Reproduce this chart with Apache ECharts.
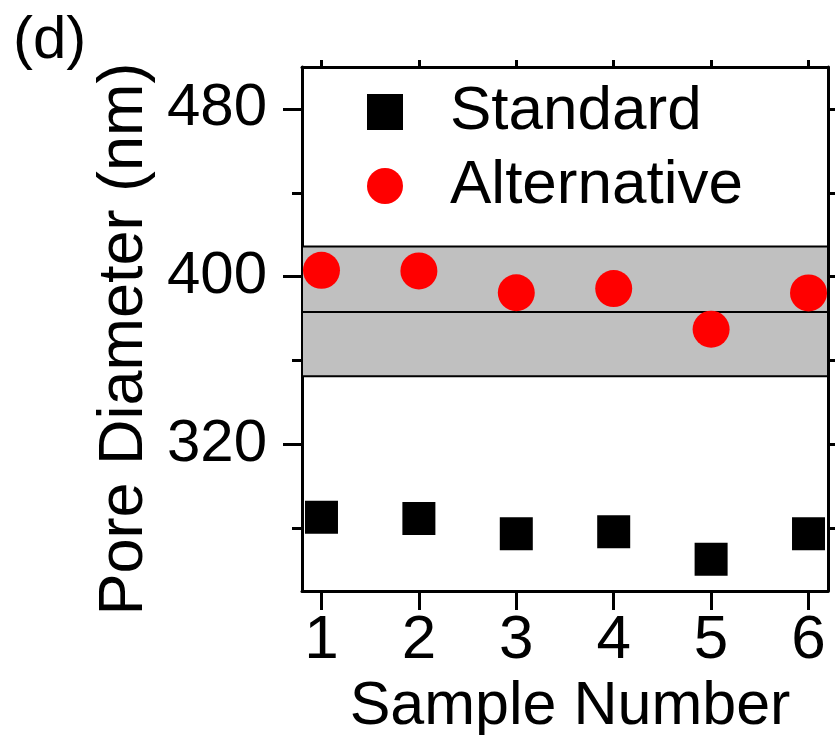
<!DOCTYPE html>
<html>
<head>
<meta charset="utf-8">
<script src="https://cdn.jsdelivr.net/npm/echarts@6/dist/echarts.min.js"></script>
<style>html,body{margin:0;padding:0;background:#fff}#c{width:835px;height:735px}</style>
</head>
<body>
<div id="c"></div>
<script>
const samples = [1, 2, 3, 4, 5, 6];
const standard = [285.2, 284.6, 277.3, 278.3, 265.1, 277.3];
const alternative = [403.0, 402.7, 392.3, 394.3, 374.9, 392.2];
const band = [352.4, 383.3, 414.4];
const yMajor = [320, 400, 480];
const yMinor = [280, 360, 440];
const yAll = [280, 320, 360, 400, 440, 480];

const FONT = '"Liberation Sans", Arial, sans-serif';
const chart = echarts.init(document.getElementById('c'));
chart.setOption({
  animation: false,
  backgroundColor: '#fff',
  textStyle: { fontFamily: FONT },
  title: {
    text: '(d)', left: 13, top: 11, padding: 0,
    textStyle: { fontFamily: FONT, fontSize: 60, fontWeight: 'normal', color: '#000' }
  },
  grid: { left: 302, right: 7, top: 67, bottom: 144, outerBoundsMode: 'none', containLabel: false },
  legend: {
    orient: 'vertical', left: 362, top: 76, itemWidth: 36, itemHeight: 36, itemGap: 12,
    textStyle: { fontFamily: FONT, fontSize: 62, color: '#000', padding: [0, 0, 0, 42] },
    data: [{ name: 'Standard', icon: 'rect' }, { name: 'Alternative', icon: 'circle' }]
  },
  xAxis: [{
    type: 'value', min: 0.8, max: 6.2, position: 'bottom',
    axisLine: { show: true, lineStyle: { color: '#000', width: 3 } },
    axisTick: { show: true, customValues: samples, length: 19, lineStyle: { color: '#000', width: 3 } },
    axisLabel: { customValues: samples, margin: 19, fontSize: 62, color: '#000', fontFamily: FONT },
    splitLine: { show: false },
    name: 'Sample Number', nameLocation: 'middle', nameGap: 79,
    nameTextStyle: { fontSize: 61, color: '#000', fontFamily: FONT, padding: [0, 0, 0, 10] }
  }, {
    type: 'value', min: 0.8, max: 6.2, position: 'top',
    axisLine: { show: true, lineStyle: { color: '#000', width: 3 } },
    axisTick: { show: true, customValues: samples, length: 7, lineStyle: { color: '#000', width: 3 } },
    axisLabel: { show: false }, splitLine: { show: false }
  }],
  yAxis: [{
    type: 'value', min: 250, max: 500, position: 'left',
    axisLine: { show: true, lineStyle: { color: '#000', width: 3 } },
    axisTick: { show: true, customValues: yMajor, length: 19, lineStyle: { color: '#000', width: 3 } },
    axisLabel: { customValues: yMajor, margin: 35, fontSize: 60, color: '#000', fontFamily: FONT },
    splitLine: { show: false },
    name: 'Pore Diameter (nm)', nameLocation: 'middle', nameGap: 146,
    nameTextStyle: { fontSize: 63, color: '#000', fontFamily: FONT, padding: [0, 20, 0, 0] }
  }, {
    type: 'value', min: 250, max: 500, position: 'left', offset: 0,
    axisLine: { show: false },
    axisTick: { show: true, customValues: yMinor, length: 10, lineStyle: { color: '#000', width: 3 } },
    axisLabel: { show: false }, splitLine: { show: false }
  }, {
    type: 'value', min: 250, max: 500, position: 'right',
    axisLine: { show: true, lineStyle: { color: '#000', width: 3 } },
    axisTick: { show: true, customValues: yAll, length: 8, lineStyle: { color: '#000', width: 3 } },
    axisLabel: { show: false }, splitLine: { show: false }
  }],
  series: [{
    name: 'band', type: 'scatter', data: [], z: 1, silent: true,
    markArea: {
      silent: true,
      itemStyle: { color: '#c0c0c0', borderColor: '#000', borderWidth: 2 },
      data: [[{ yAxis: band[0] }, { yAxis: band[2] }]]
    },
    markLine: {
      silent: true, symbol: ['none', 'none'], label: { show: false },
      lineStyle: { color: '#000', width: 2, type: 'solid' },
      data: [{ yAxis: band[1] }]
    }
  }, {
    name: 'Standard', type: 'scatter', symbol: 'rect', symbolSize: 33, z: 5,
    itemStyle: { color: '#000', opacity: 1 },
    data: samples.map((s, i) => [s, standard[i]])
  }, {
    name: 'Alternative', type: 'scatter', symbol: 'circle', symbolSize: 37, z: 5,
    itemStyle: { color: '#ff0000', opacity: 1 },
    data: samples.map((s, i) => [s, alternative[i]])
  }]
});
</script>
</body>
</html>
